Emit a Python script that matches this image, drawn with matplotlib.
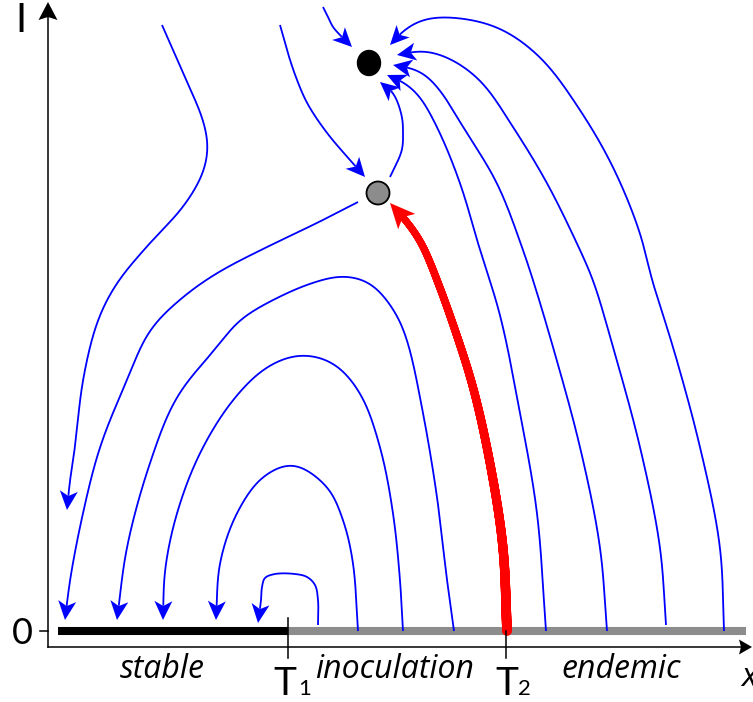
import numpy as np
import matplotlib.pyplot as plt
from matplotlib.patches import Polygon, Ellipse
from matplotlib.collections import LineCollection

plt.rcParams['font.family'] = ['Lato', 'DejaVu Sans']

# thresholds on the x axis and end of the I = 0 line
T1 = 2.40
T2 = 4.58
x_end = 6.98

# equilibria (x, I)
node = (3.21, 5.68)
saddle = (3.30, 4.38)

# trajectories, listed in the direction of the flow
traj_a = [(1.14, 6.06), (1.35, 5.58), (1.55, 5.11), (1.60, 4.84), (1.55, 4.58), (1.35, 4.24),
          (1.02, 3.88), (0.69, 3.48), (0.50, 3.11), (0.35, 2.51), (0.27, 1.84), (0.22, 1.51), (0.19, 1.21)]
traj_b = [(3.10, 4.29), (2.69, 4.08), (2.19, 3.84), (1.69, 3.58), (1.35, 3.34), (1.02, 3.01),
          (0.79, 2.51), (0.52, 1.84), (0.35, 1.18), (0.22, 0.51), (0.17, 0.11)]
traj_c = [(4.06, 0.00), (3.99, 0.51), (3.89, 1.34), (3.75, 2.18), (3.59, 2.91), (3.47, 3.19),
          (3.22, 3.48), (2.95, 3.55), (2.67, 3.49), (2.35, 3.36), (1.92, 3.11), (1.69, 2.84),
          (1.29, 2.34), (1.02, 1.68), (0.79, 0.84), (0.69, 0.11)]
traj_d = [(3.55, 0.00), (3.52, 0.51), (3.45, 1.18), (3.32, 1.84), (3.12, 2.38), (2.85, 2.68),
          (2.52, 2.76), (2.19, 2.64), (1.85, 2.31), (1.52, 1.78), (1.29, 1.18), (1.17, 0.61), (1.15, 0.11)]
traj_e = [(3.10, 0.00), (3.05, 0.68), (2.95, 1.11), (2.79, 1.44), (2.45, 1.66), (2.15, 1.54),
          (1.89, 1.18), (1.72, 0.68), (1.68, 0.11)]
traj_loop = [(2.70, 0.06), (2.70, 0.31), (2.67, 0.46), (2.59, 0.54), (2.47, 0.57), (2.27, 0.57),
             (2.17, 0.53), (2.14, 0.44), (2.13, 0.31), (2.10, 0.08)]
traj_to_saddle = [(2.32, 6.06), (2.42, 5.71), (2.49, 5.51), (2.59, 5.28), (2.79, 4.98),
                  (3.02, 4.71), (3.17, 4.54)]
traj_to_node = [(2.75, 6.24), (2.80, 6.14), (2.85, 6.04), (2.92, 5.96), (3.04, 5.84)]
traj_saddle_up = [(3.42, 4.54), (3.54, 4.81), (3.55, 4.98), (3.54, 5.14), (3.45, 5.38), (3.32, 5.49)]
traj_h1 = [(6.76, 0.00), (6.72, 0.84), (6.52, 1.84), (6.25, 2.84), (6.04, 3.51), (5.92, 3.98),
           (5.65, 4.64), (5.32, 5.21), (4.92, 5.74), (4.49, 6.04), (3.99, 6.14), (3.72, 6.11),
           (3.52, 5.98), (3.42, 5.86)]
traj_h2 = [(6.18, 0.06), (6.12, 0.84), (5.92, 1.84), (5.65, 2.84), (5.45, 3.51), (5.32, 3.81),
           (4.99, 4.48), (4.65, 5.04), (4.32, 5.51), (3.99, 5.74), (3.72, 5.81), (3.59, 5.78), (3.49, 5.76)]
traj_h3 = [(5.59, 0.00), (5.52, 0.84), (5.32, 1.84), (5.05, 2.84), (4.85, 3.51), (4.75, 3.81),
           (4.49, 4.48), (4.15, 5.04), (3.92, 5.41), (3.72, 5.61), (3.59, 5.64), (3.45, 5.66)]
traj_h4 = [(4.98, 0.00), (4.89, 1.18), (4.72, 2.18), (4.52, 3.16), (4.32, 3.81), (4.12, 4.48),
           (3.89, 5.04), (3.69, 5.38), (3.52, 5.51), (3.39, 5.56)]
# inoculation path from T2 to the saddle
traj_inoc = [(4.59, 0.00), (4.55, 0.84), (4.42, 1.68), (4.25, 2.44), (4.07, 3.01), (3.89, 3.51),
             (3.72, 3.91), (3.55, 4.14), (3.42, 4.28)]

# (trajectory, smoothing width along the curve)
blue_flows = [(traj_a, 0.10), (traj_b, 0.12), (traj_c, 0.10), (traj_d, 0.10), (traj_e, 0.07),
              (traj_loop, 0.0), (traj_to_saddle, 0.06), (traj_to_node, 0.02),
              (traj_saddle_up, 0.04), (traj_h1, 0.12), (traj_h2, 0.12), (traj_h3, 0.12),
              (traj_h4, 0.10)]

region_names = ['stable', 'inoculation', 'endemic']
region_pos = [1.14, 3.47, 5.73]


def catmull_rom(pts, n=40):
    # centripetal Catmull-Rom through the points
    p = np.asarray(pts, float)
    p = np.vstack([2 * p[0] - p[1], p, 2 * p[-1] - p[-2]])
    out = [p[1]]
    for i in range(1, len(p) - 2):
        p0, p1, p2, p3 = p[i - 1], p[i], p[i + 1], p[i + 2]
        t0 = 0.0
        t1 = t0 + np.linalg.norm(p1 - p0) ** 0.5
        t2 = t1 + np.linalg.norm(p2 - p1) ** 0.5
        t3 = t2 + np.linalg.norm(p3 - p2) ** 0.5
        t = np.linspace(t1, t2, n)[1:, None]
        a1 = (t1 - t) / (t1 - t0) * p0 + (t - t0) / (t1 - t0) * p1
        a2 = (t2 - t) / (t2 - t1) * p1 + (t - t1) / (t2 - t1) * p2
        a3 = (t3 - t) / (t3 - t2) * p2 + (t - t2) / (t3 - t2) * p3
        b1 = (t2 - t) / (t2 - t0) * a1 + (t - t0) / (t2 - t0) * a2
        b2 = (t3 - t) / (t3 - t1) * a2 + (t - t1) / (t3 - t1) * a3
        out.extend((t2 - t) / (t2 - t1) * b1 + (t - t1) / (t2 - t1) * b2)
    return np.array(out)


def smooth(c, sigma, step=0.004):
    # resample by arc length, then gaussian filter with odd reflection at the ends
    s = np.r_[0, np.cumsum(np.linalg.norm(np.diff(c, axis=0), axis=1))]
    ss = np.arange(0, s[-1], step)
    ss = np.r_[ss, s[-1]]
    c = np.column_stack([np.interp(ss, s, c[:, 0]), np.interp(ss, s, c[:, 1])])
    if sigma <= 0:
        return c
    k = min(int(3 * sigma / step), len(c) - 2)
    pad = np.vstack([2 * c[0] - c[1:k + 1][::-1], c, 2 * c[-1] - c[-k - 1:-1][::-1]])
    g = np.exp(-0.5 * (np.arange(-k, k + 1) * step / sigma) ** 2)
    g /= g.sum()
    return np.column_stack([np.convolve(pad[:, 0], g, 'valid'), np.convolve(pad[:, 1], g, 'valid')])


def head(ax, tip, u, L, W, notch, color, z=4):
    n = np.array([-u[1], u[0]])
    base = tip - L * u
    pts = [tip, base + W / 2 * n, tip - (L - notch) * u, base - W / 2 * n]
    ax.add_patch(Polygon(pts, closed=True, fc=color, ec='none', zorder=z))


def flow(ax, pts, sigma=0.1, color='#0000ff', lw=1.3, L=0.19, W=0.18, notch=0.05, widths=None):
    c = smooth(catmull_rom(pts), sigma)
    rev = c[::-1]
    d = np.r_[0, np.cumsum(np.linalg.norm(np.diff(rev, axis=0), axis=1))]
    tip = c[-1]
    back = rev[np.searchsorted(d, L * 0.8)]
    u = (tip - back) / np.linalg.norm(tip - back)
    head(ax, tip, u, L, W, notch, color)
    k = np.searchsorted(d, L - notch)
    line = c[:len(c) - k]
    if widths is None:
        ax.plot(line[:, 0], line[:, 1], color=color, lw=lw, solid_capstyle='butt', zorder=3)
    else:
        segs = np.stack([line[:-1], line[1:]], axis=1)
        lws = np.linspace(widths[0], widths[1], len(segs))
        ax.add_collection(LineCollection(segs, colors=color, linewidths=lws,
                                         capstyle='round', zorder=3))


fig = plt.figure(figsize=(7.53, 7.02), dpi=100)
ax = fig.add_axes([0, 0, 1, 1])
ax.set_xlim(-0.48, 7.05)
ax.set_ylim(-0.71, 6.31)
ax.axis('off')

# axes with arrows
ax.plot([0, 0], [-0.16, 6.15], color='black', lw=1.1, zorder=2)
head(ax, np.array([0.0, 6.29]), np.array([0.0, 1.0]), 0.18, 0.19, 0.03, 'black')
ax.plot([0, 6.94], [-0.16, -0.16], color='black', lw=1.1, zorder=2)
head(ax, np.array([7.04, -0.16]), np.array([1.0, 0.0]), 0.13, 0.15, 0.02, 'black')

# I = 0 line: stable part and the rest
ax.plot([T1, x_end], [0, 0], color='#8c8c8c', lw=5.8, solid_capstyle='butt', zorder=2)
ax.plot([0.10, T1], [0, 0], color='black', lw=5.8, solid_capstyle='butt', zorder=2)

# ticks
ax.plot([-0.08, 0], [0, 0], color='black', lw=1.1, zorder=2)
ax.plot([T1, T1], [0.13, -0.27], color='black', lw=1.1, zorder=5)
ax.plot([T2, T2], [0.0, -0.27], color='black', lw=1.1, zorder=5)

for tr, sg in blue_flows:
    flow(ax, tr, sigma=sg)
flow(ax, traj_inoc, sigma=0.12, color='#ff0000', L=0.25, W=0.23, notch=0.06, widths=(7.0, 5.0))

ax.add_patch(Ellipse(node, 0.23, 0.25, fc='black', ec='black', zorder=6))
ax.add_patch(Ellipse(saddle, 0.23, 0.23, fc='#8c8c8c', ec='black', lw=1.3, zorder=6))

# labels
ax.text(-0.27, 6.11, 'I', fontsize=29, ha='center', va='center')
ax.text(-0.26, -0.03, '0', fontsize=26, ha='center', va='center')
for name, xp in zip(region_names, region_pos):
    ax.text(xp, -0.475, name, fontsize=23, style='italic', family=['Open Sans', 'DejaVu Sans'],
            ha='center', va='baseline')
ax.text(2.25, -0.64, 'T', fontsize=28, ha='left', va='baseline')
ax.text(2.50, -0.64, '1', fontsize=16, ha='left', va='baseline')
ax.text(4.47, -0.64, 'T', fontsize=28, ha='left', va='baseline')
ax.text(4.70, -0.64, '2', fontsize=16, ha='left', va='baseline')
ax.text(6.93, -0.55, 'x', fontsize=24, style='italic', family=['Open Sans', 'DejaVu Sans'],
        ha='left', va='baseline')

fig.savefig('out.png', dpi=100)
